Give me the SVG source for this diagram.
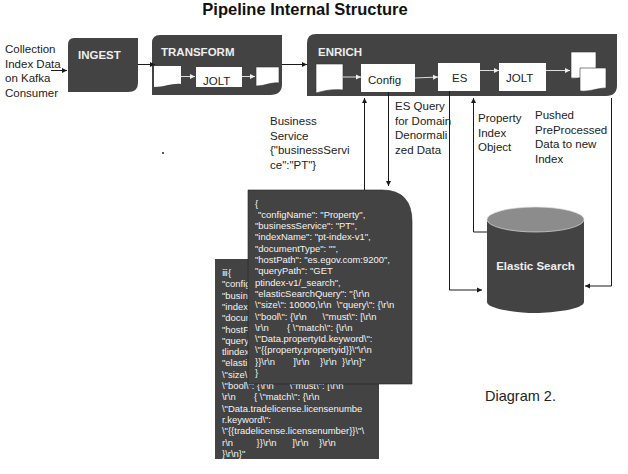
<svg xmlns="http://www.w3.org/2000/svg" width="628" height="474" viewBox="0 0 628 474">
<defs>
<marker id="a" markerWidth="6" markerHeight="6" refX="5" refY="3" orient="auto" markerUnits="userSpaceOnUse"><path d="M0 0.500L5 3L0 5.500Z" fill="#1a1a1a"/></marker>
<marker id="w" markerWidth="6" markerHeight="6" refX="5" refY="3" orient="auto" markerUnits="userSpaceOnUse"><path d="M0 0.500L5 3L0 5.500Z" fill="#eee"/></marker>
</defs>
<style>
text{font-family:"Liberation Sans",Arial,sans-serif;fill:#222}
.t{font-size:11.5px}
.h{font-size:11.5px;font-weight:bold;fill:#eee}
.dark{fill:#434343}
.doc{fill:#fff;stroke:#333;stroke-width:.6}
.box{fill:#fff}
.c{fill:none;stroke:#1a1a1a;stroke-width:1}
.cw{fill:none;stroke:#ddd;stroke-width:1}
.code text{font-size:9.45px;fill:#f3f3f3;white-space:pre}
</style>
<rect width="628" height="474" fill="#fff"/>
<text x="305" y="15" font-size="16.5" font-weight="bold" text-anchor="middle" style="fill:#111">Pipeline Internal Structure</text>

<g id="label-source" class="t"><text class="t" x="5" y="53">Collection</text><text class="t" x="5" y="68">Index Data</text><text class="t" x="5" y="82">on Kafka</text><text class="t" x="5" y="97">Consumer</text></g>

<g id="ingest"><path class="dark" d="M74 38H138V83Q138 92 128 92H68V45Q68 38 74 38Z"/><text class="h" x="78" y="59">INGEST</text></g>

<g id="transform"><path class="dark" d="M160 35H282V84Q282 95 270 95H152V43Q152 35 160 35Z"/><text class="h" x="161" y="56">TRANSFORM</text>
<path class="box" d="M154 66H181V84C172 83 165 87 154 87Z"/>
<rect class="box" x="196" y="67" width="46" height="20"/><text class="t" x="203" y="85">JOLT</text>
<path class="doc" d="M256 67H279V83C271 82 265 86 256 86Z"/></g>

<g id="enrich"><path class="dark" d="M316 34H617V85Q617 96 606 96H307V43Q307 34 316 34Z"/><text class="h" x="318" y="56">ENRICH</text>
<path class="doc" d="M316 64H343V90C334 89 326 90 316 93Z"/>
<rect class="box" x="361" y="64" width="54" height="28"/><text class="t" x="368" y="84">Config</text>
<rect class="box" x="438" y="63" width="42" height="28"/><text class="t" x="452" y="82">ES</text>
<rect class="box" x="499" y="63" width="47" height="28"/><text class="t" x="506" y="82">JOLT</text>
<path class="doc" d="M571 52H596V76C587 76 580 79 571 78Z"/>
<path class="doc" d="M580 68H606V88C597 88 590 92 580 91Z"/></g>

<g id="connectors">
<path class="c" d="M51 70.500H67" marker-end="url(#a)"/>
<path class="c" d="M138 64.500H155" marker-end="url(#a)"/>
<path class="c" d="M282 64.500H307" marker-end="url(#a)"/>
<path class="cw" d="M181 76.500H195" marker-end="url(#w)"/>
<path class="cw" d="M242 76.500H255" marker-end="url(#w)"/>
<path class="cw" d="M343 77H361" marker-end="url(#w)"/>
<path class="cw" d="M415 78L438 77" marker-end="url(#w)"/>
<path class="cw" d="M480 70.500H499" marker-end="url(#w)"/>
<path class="cw" d="M546 70.500H570" marker-end="url(#w)"/>
<path class="c" d="M364.500 190V98" marker-end="url(#a)"/>
<path class="c" d="M388.500 92V186" marker-end="url(#a)"/>
<path class="c" d="M449.500 91V290H482" marker-end="url(#a)"/>
<path class="c" d="M488 232H473.500V98" marker-end="url(#a)"/>
<path class="c" d="M611.500 98V286H585" marker-end="url(#a)"/>
</g>

<g id="label-business"><text class="t" x="270" y="125">Business</text><text class="t" x="270" y="140">Service</text><text class="t" x="270" y="154">{"businessServi</text><text class="t" x="270" y="169">ce":"PT"}</text></g>
<g id="label-esquery"><text class="t" x="395" y="110">ES Query</text><text class="t" x="395" y="125">for Domain</text><text class="t" x="395" y="139">Denormali</text><text class="t" x="395" y="154">zed Data</text></g>
<g id="label-property"><text class="t" x="478" y="122">Property</text><text class="t" x="478" y="137">Index</text><text class="t" x="478" y="151">Object</text></g>
<g id="label-pushed"><text class="t" x="535" y="119">Pushed</text><text class="t" x="535" y="134">PreProcessed</text><text class="t" x="535" y="148">Data to new</text><text class="t" x="535" y="163">Index</text></g>
<circle id="dot" cx="163" cy="153" r="1" fill="#222"/>

<g id="config-back"><rect class="dark" x="215" y="259" width="164" height="200"/>
<g class="code"><text x="222" y="276">ⅲ{</text><text x="222" y="287.300">"config</text><text x="222" y="298.600">"busin</text><text x="222" y="309.900">"index</text><text x="222" y="321.200">"docum</text><text x="222" y="332.500">"hostP</text><text x="222" y="343.800">"query</text><text x="222" y="355.100">tlindex</text><text x="222" y="366.400">"elasti</text><text x="222" y="377.700">\"size\</text><text x="222" y="389">\"bool\": {\r\n      \"must\": [\r\n</text><text x="222" y="400.300">\r\n       { \"match\": {\r\n</text><text x="222" y="411.600">\"Data.tradelicense.licensenumbe</text><text x="222" y="422.900">r.keyword\":</text><text x="222" y="434.200">\"{{tradelicense.licensenumber}}\"\</text><text x="222" y="445.500">r\n         }}\r\n      ]\r\n    }\r\n</text><text x="222" y="456.800">}\r\n}"</text></g></g>

<g id="config-front"><path class="dark" d="M248 190H382Q412 190 412 222V384H248Z" stroke="#222" stroke-width=".6"/>
<g class="code"><text x="255" y="206.500">{</text><text x="258" y="217.800">"configName": "Property",</text><text x="255" y="229.100">"businessService": "PT",</text><text x="255" y="240.400">"indexName": "pt-index-v1",</text><text x="255" y="251.700">"documentType": "",</text><text x="255" y="263">"hostPath": "es.egov.com:9200",</text><text x="255" y="274.300">"queryPath": "GET</text><text x="255" y="285.600">ptindex-v1/_search",</text><text x="255" y="296.900">"elasticSearchQuery": "{\r\n</text><text x="255" y="308.200">\"size\": 10000,\r\n  \"query\": {\r\n</text><text x="255" y="319.500">\"bool\": {\r\n      \"must\": [\r\n</text><text x="255" y="330.800">\r\n       { \"match\": {\r\n</text><text x="255" y="342.100">\"Data.propertyId.keyword\":</text><text x="255" y="353.400">\"{{property.propertyid}}\"\r\n</text><text x="255" y="364.700">}}\r\n       ]\r\n    }\r\n  }\r\n}"</text><text x="255" y="376">}</text></g></g>

<g id="elastic"><path class="dark" d="M487 219V302C487 309 518 313 535.500 313C553 313 584 309 584 302V219Z"/><ellipse cx="535.500" cy="219.500" rx="48.500" ry="12.500" fill="#8c8c8c" stroke="#ddd" stroke-width=".7"/><text x="535.500" y="270" font-size="11.5" font-weight="bold" text-anchor="middle" style="fill:#eee">Elastic Search</text></g>

<text id="caption" x="485" y="401" font-size="14.500">Diagram 2.</text>
</svg>
